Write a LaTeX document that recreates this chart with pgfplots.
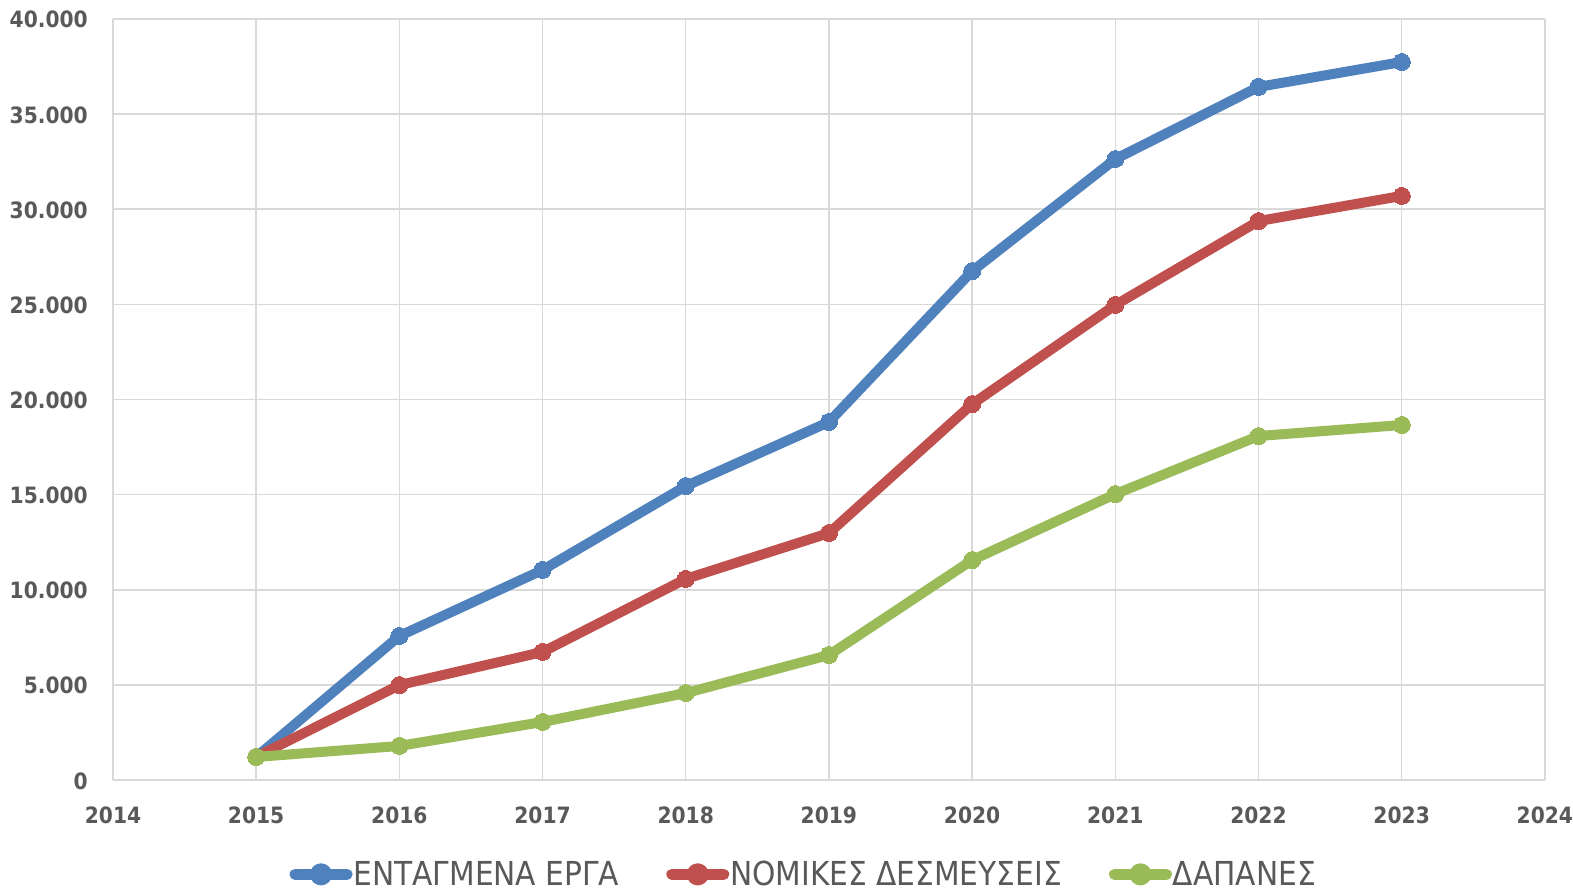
\documentclass[border=0pt]{standalone}
\usepackage{fontspec}
\setmainfont{DejaVu Sans}
\newfontfamily\tickfont{DejaVu Sans Condensed}
\newfontfamily\legfont{DejaVu Sans Condensed}
\usepackage{pgfplots}
\pgfplotsset{compat=1.18}
\definecolor{cblue}{HTML}{4F81BD}
\definecolor{cred}{HTML}{C0504D}
\definecolor{cgreen}{HTML}{9BBB59}
\definecolor{cgrid}{HTML}{D9D9D9}
\definecolor{ctext}{HTML}{595959}
\begin{document}
\begin{tikzpicture}[x=1pt,y=1pt]
\useasboundingbox (0,0) rectangle (1573,887);
\begin{axis}[
  at={(113pt,107pt)}, anchor=south west,
  width=1432pt, height=761pt, scale only axis,
  xmin=2014, xmax=2024, ymin=0, ymax=40000,
  xtick={2014,...,2024},
  xticklabels={2014,2015,2016,2017,2018,2019,2020,2021,2022,2023,2024},
  ytick={0,5000,...,40000},
  yticklabels={0,5.000,10.000,15.000,20.000,25.000,30.000,35.000,40.000},
  tick style={draw=none},
  xmajorgrids, ymajorgrids,
  grid style={cgrid, line width=1.5pt},
  axis line style={draw=cgrid, line width=1.5pt},
  axis x line*=bottom, axis y line*=left,
  every axis x line/.append style={draw=cgrid!80!black},
  ticklabel style={font=\tickfont\bfseries\fontsize{22.5}{26}\selectfont, text=ctext, inner sep=0pt,
    text height=16pt, text depth=0pt},
  xticklabel style={yshift=-27pt},
  yticklabel style={xshift=-25pt, yshift=-1pt},
  clip=false,
  legend columns=3,
  legend style={at={(axis description cs:0.482,-0.124)}, anchor=center, draw=none, fill=none,
    font=\legfont\fontsize{33}{37}\selectfont, text=ctext,
    /tikz/every even column/.append style={column sep=46pt},
    inner sep=0pt, nodes={inner sep=1pt}},
  legend image code/.code={
    \draw[#1, mark=none, line cap=round, line width=11pt] (0pt,0pt) -- (52pt,0pt);
    \fill[#1] (26pt,0pt) circle (6pt);
  },
  every axis plot/.append style={line width=10pt, mark=*, mark size=8.5pt, line join=round},
]
\addplot[cblue, mark options={fill=cblue, draw=cblue, line width=0pt}] coordinates {
(2015,1210) (2016,7570) (2017,11040) (2018,15450) (2019,18820) (2020,26750) (2021,32640) (2022,36430) (2023,37740)};
\addlegendentry{ΕΝΤΑΓΜΕΝΑ ΕΡΓΑ}
\addplot[cred, mark options={fill=cred, draw=cred, line width=0pt}] coordinates {
(2015,1210) (2016,4990) (2017,6730) (2018,10570) (2019,12980) (2020,19760) (2021,24970) (2022,29380) (2023,30700)};
\addlegendentry{ΝΟΜΙΚΕΣ ΔΕΣΜΕΥΣΕΙΣ}
\addplot[cgreen, mark options={fill=cgreen, draw=cgreen, line width=0pt}] coordinates {
(2015,1210) (2016,1790) (2017,3050) (2018,4570) (2019,6570) (2020,11560) (2021,15030) (2022,18080) (2023,18660)};
\addlegendentry{ΔΑΠΑΝΕΣ}
\end{axis}
\end{tikzpicture}
\end{document}
